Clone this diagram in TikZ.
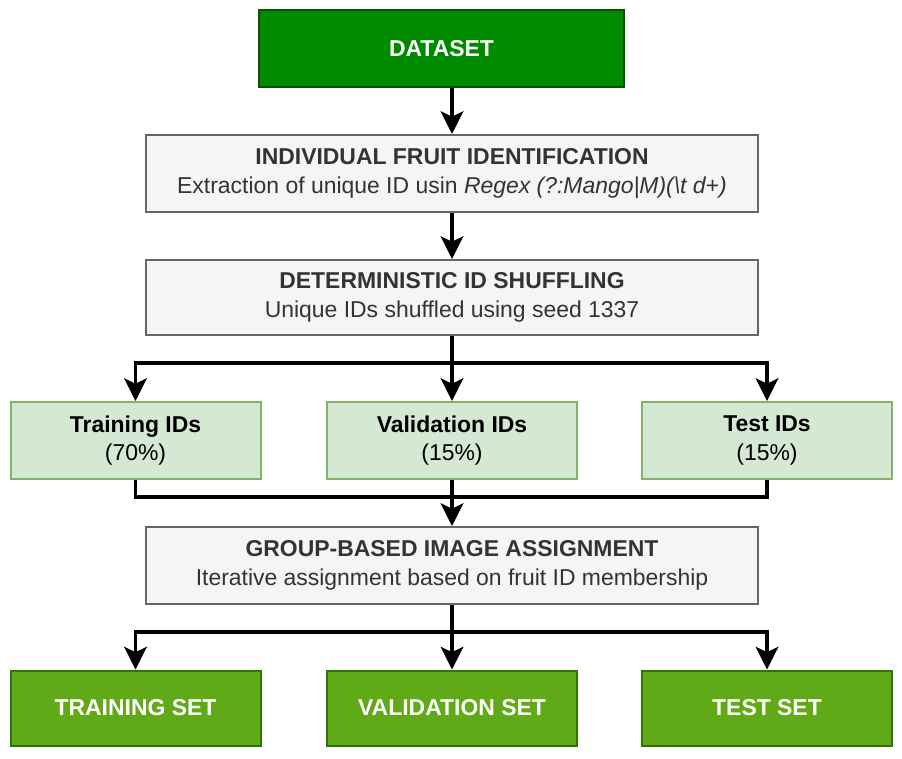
\documentclass[tikz,border=0pt]{standalone}
\usepackage{fontspec}
\setmainfont{Liberation Sans}
\usepackage{xcolor}
\usepackage{tikz}
\usetikzlibrary{arrows.meta}

\definecolor{dsgreen}{HTML}{008A00}
\definecolor{dsline}{HTML}{005700}
\definecolor{setgreen}{HTML}{60A917}
\definecolor{setline}{HTML}{2D7600}
\definecolor{idfill}{HTML}{D5E8D4}
\definecolor{idline}{HTML}{82B366}
\definecolor{stepfill}{HTML}{F5F5F5}
\definecolor{stepline}{HTML}{666666}
\definecolor{steptext}{HTML}{333333}

\begin{document}
\begin{tikzpicture}[x=0.75pt, y=-0.75pt,
  box/.style={draw, line width=1.5pt, inner sep=0pt, align=center, font=\fontsize{17.2}{21.5}\selectfont},
  darkbox/.style={box, fill=dsgreen, draw=dsline, text=white, font=\fontsize{17.2}{21.5}\selectfont\bfseries},
  outbox/.style={box, fill=setgreen, draw=setline, text=white, font=\fontsize{17.2}{21.5}\selectfont\bfseries, minimum width=187.5pt, minimum height=56.25pt},
  stepbox/.style={box, fill=stepfill, draw=stepline, text=steptext, minimum width=459pt, minimum height=57.75pt},
  idbox/.style={box, fill=idfill, draw=idline, text=black, minimum width=187.5pt, minimum height=57.75pt},
  arr/.style={line width=2.4pt, -{Stealth[inset=4pt, length=17pt, width=17pt]}}]
\useasboundingbox (0,0) rectangle (902,758);
% boxes
\node[darkbox, minimum width=273.75pt, minimum height=57.75pt] (dataset) at (441.5,48.5) {DATASET};
\node[stepbox] (ident) at (452,173.5) {\textbf{INDIVIDUAL FRUIT IDENTIFICATION}\\Extraction of unique ID usin \textit{Regex (?:Mango|M)(\textbackslash t d+)}};
\node[stepbox, minimum height=56.25pt] (shuffle) at (452,297.5) {\textbf{DETERMINISTIC ID SHUFFLING}\\Unique IDs shuffled using seed 1337};
\node[idbox] (trainid) at (135.5,440.5) {\textbf{Training IDs}\\(70\%)};
\node[idbox] (valid) at (452,440.5) {\textbf{Validation IDs}\\(15\%)};
\node[idbox] (testid) at (767,440.5) {\textbf{Test IDs}\\(15\%)};
\node[stepbox] (assign) at (452,565.5) {\textbf{GROUP-BASED IMAGE ASSIGNMENT}\\Iterative assignment based on fruit ID membership};
\node[outbox] (trainset) at (135.5,708) {TRAINING SET};
\node[outbox] (validset) at (452,708) {VALIDATION SET};
\node[outbox] (testset) at (767,708) {TEST SET};
% connectors
\coordinate (split) at (452,363);
\coordinate (merge) at (452,497);
\coordinate (deal) at (452,632);
\draw[arr] (ident.north |- dataset.south) -- (ident);
\draw[arr] (ident) -- (shuffle);
\draw[line width=2.4pt] (shuffle) -- (split);
\foreach \n in {trainid,valid,testid}\draw[arr] (split) -| (\n);
\foreach \n in {trainid,testid}\draw[line width=2.4pt] (\n.south) |- (merge);
\draw[arr] (valid) -- (assign);
\draw[line width=2.4pt] (assign) -- (deal);
\foreach \n in {trainset,validset,testset}\draw[arr] (deal) -| (\n);
\end{tikzpicture}
\end{document}
